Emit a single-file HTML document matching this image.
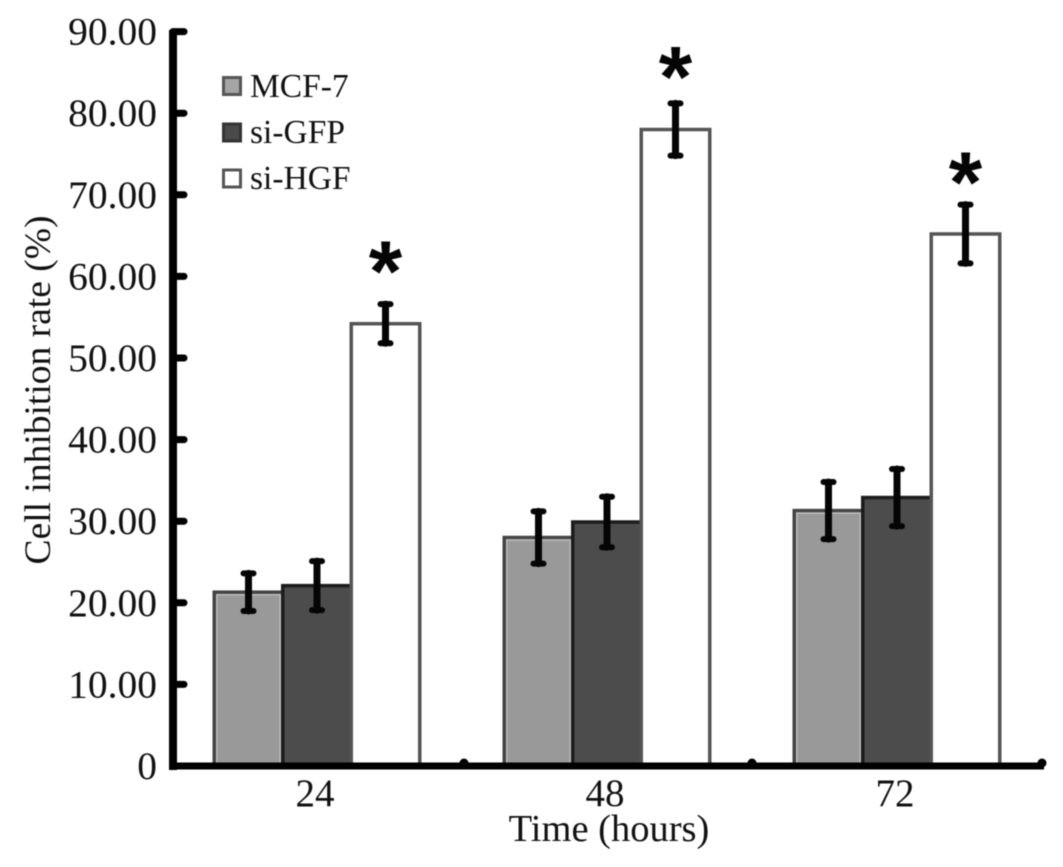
<!DOCTYPE html>
<html>
<head>
<meta charset="utf-8">
<title>Cell inhibition rate</title>
<style>
html,body{margin:0;padding:0;background:#fff;width:1063px;height:867px;overflow:hidden}
svg{display:block;font-family:"Liberation Serif",serif;fill:#111;filter:blur(0.5px)}
</style>
</head>
<body>
<svg id="chart" width="1063" height="867" viewBox="0 0 1063 867" xmlns="http://www.w3.org/2000/svg">
  <text transform="translate(50,390) rotate(-90)" text-anchor="middle" font-size="37.5">Cell inhibition rate (%)</text>
  <text x="609" y="841" text-anchor="middle" font-size="38.5">Time (hours)</text>
  <g>
    <g>
      <rect x="223.5" y="77.5" width="17" height="17" fill="#a5a5a5" stroke="#555" stroke-width="3"/>
      <text x="250" y="97" font-size="33.5">MCF-7</text>
    </g>
    <g>
      <rect x="223.5" y="124" width="17" height="17" fill="#4a4a4a" stroke="#333" stroke-width="3"/>
      <text x="250" y="143" font-size="33.5">si-GFP</text>
    </g>
    <g>
      <rect x="223.5" y="170" width="17" height="17" fill="#fff" stroke="#555" stroke-width="3"/>
      <text x="250" y="189" font-size="33.5">si-HGF</text>
    </g>
  </g>
  <g id="plot"></g>
</svg>
<script>
const categories = ['24', '48', '72'];
const yTickValues = [0, 10, 20, 30, 40, 50, 60, 70, 80, 90];
const yTickLabels = ['0', '10.00', '20.00', '30.00', '40.00', '50.00', '60.00', '70.00', '80.00', '90.00'];
const mcf7Values = [21.3, 28.0, 31.3];
const siGfpValues = [22.1, 29.9, 32.9];
const siHgfValues = [54.2, 78.0, 65.2];
const mcf7Errors = [2.3, 3.2, 3.5];
const siGfpErrors = [3.0, 3.1, 3.5];
const siHgfErrors = [2.4, 3.2, 3.6];
const starLevels = [57.0, 80.8, 67.9];

const NS = 'http://www.w3.org/2000/svg';
const plot = document.getElementById('plot');
const y0 = 766, yUnit = 8.16, x0 = 172, groupW = 290, barW = 68.5;
function yScale(v) { return y0 - v * yUnit; }
function xCenter(i) { return x0 + groupW * (i + 0.5); }
function mk(tag, attrs, parent) {
  const el = document.createElementNS(NS, tag);
  for (const k in attrs) el.setAttribute(k, attrs[k]);
  (parent || plot).appendChild(el);
  return el;
}

const seriesList = [
  { key: 'mcf-7', values: mcf7Values, errors: mcf7Errors, fill: '#999999', stroke: '#444444', inner: '#bdbdbd', offset: -1.5 },
  { key: 'si-gfp', values: siGfpValues, errors: siGfpErrors, fill: '#4c4c4c', stroke: '#1c1c1c', inner: null, offset: -0.5 },
  { key: 'si-hgf', values: siHgfValues, errors: siHgfErrors, fill: '#ffffff', stroke: '#555555', inner: null, offset: 0.5 }
];

seriesList.forEach(function (s) {
  s.values.forEach(function (v, i) {
    const bx = xCenter(i) + s.offset * barW;
    const bar = mk('rect', { x: bx, y: yScale(v), width: barW, height: y0 - yScale(v), fill: s.fill, stroke: s.stroke, 'stroke-width': 3.5 });
    
    
    if (s.inner) {
      const edge = mk('rect', { x: bx + 2.5, y: yScale(v) + 2.5, width: barW - 5, height: y0 - yScale(v) - 5, fill: 'none', stroke: s.inner, 'stroke-width': 1.5 });
      
      
    }
  });
});

seriesList.forEach(function (s) {
  s.values.forEach(function (v, i) {
    const cx = xCenter(i) + (s.offset + 0.5) * barW;
    const top = yScale(v + s.errors[i]);
    const bottom = yScale(v - s.errors[i]);
    const g = mk('g', { stroke: '#050505', 'stroke-linecap': 'round' });
    
    
    mk('line', { x1: cx, x2: cx, y1: top, y2: bottom, 'stroke-width': 7 }, g);
    mk('line', { x1: cx - 5, x2: cx + 5, y1: top, y2: top, 'stroke-width': 6 }, g);
    mk('line', { x1: cx - 5, x2: cx + 5, y1: bottom, y2: bottom, 'stroke-width': 6 }, g);
  });
});

starLevels.forEach(function (level, i) {
  const t = mk('text', { x: xCenter(i) + barW, y: yScale(level), 'text-anchor': 'middle', 'font-size': 86, 'font-weight': 'bold', 'font-family': '"Liberation Sans", sans-serif', fill: '#050505' });
  t.textContent = '*';
  
  
});

const yAxis = mk('line', { x1: 173, x2: 173, y1: 30, y2: 770, stroke: '#000', 'stroke-width': 8 });


const xAxis = mk('line', { x1: 172, x2: 1044, y1: y0, y2: y0, stroke: '#000', 'stroke-width': 7 });



yTickValues.forEach(function (v, i) {
  const y = yScale(v);
  const tick = mk('line', { x1: 173, x2: 184, y1: y, y2: y, stroke: '#000', 'stroke-width': 7, 'stroke-linecap': 'round' });
  
  
  const label = mk('text', { x: 157, y: y + 13, 'text-anchor': 'end', 'font-size': 39.5 });
  label.textContent = yTickLabels[i];
  
  
});

categories.forEach(function (c, i) {
  const tick = mk('circle', { cx: x0 + groupW * (i + 1) + (i === 0 ? 2 : 0), cy: y0 - 3, r: 4.5, fill: '#000' });
  
  
  const label = mk('text', { x: xCenter(i) - 2, y: 806, 'text-anchor': 'middle', 'font-size': 39 });
  label.textContent = c;
  
  
});
</script>
</body>
</html>
